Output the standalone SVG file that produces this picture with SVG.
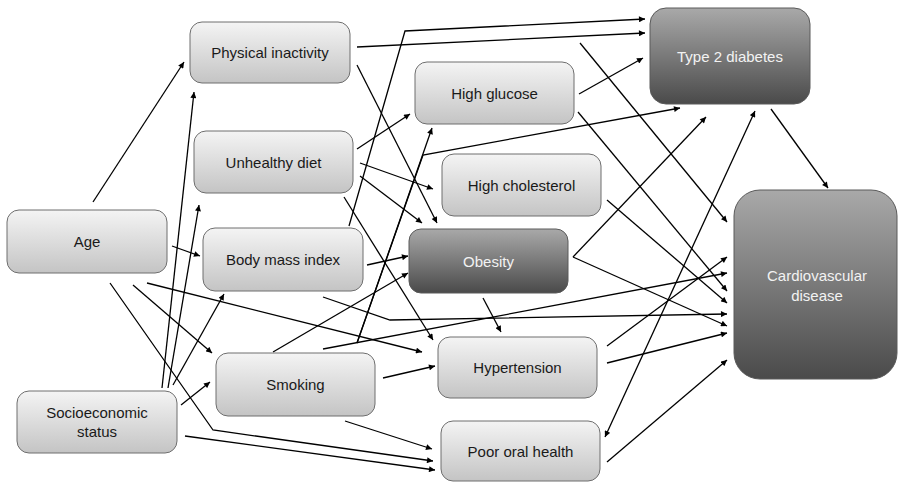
<svg xmlns="http://www.w3.org/2000/svg" width="899" height="482" viewBox="0 0 899 482">
<defs>
<linearGradient id="gl" x1="0" y1="0" x2="0" y2="1"><stop offset="0" stop-color="#f4f4f4"/><stop offset="1" stop-color="#c4c4c4"/></linearGradient>
<linearGradient id="gd" x1="0" y1="0" x2="0" y2="1"><stop offset="0" stop-color="#a9a9a9"/><stop offset="1" stop-color="#4a4a4a"/></linearGradient>
<marker id="ah" viewBox="0 0 10 10" refX="10" refY="5" markerWidth="7" markerHeight="6" markerUnits="userSpaceOnUse" orient="auto-start-reverse"><path d="M0,0 L10,5 L0,10 z" fill="#000"/></marker>
</defs>
<style>
.l{fill:url(#gl);stroke:#6e6e6e;stroke-width:1}
.d{fill:url(#gd);stroke:#5a5a5a;stroke-width:1}
text{font-family:"Liberation Sans",Arial,sans-serif;font-size:15px;text-anchor:middle}
.tl{fill:#1a1a1a}
.td{fill:#f2f2f2}
#edges line,#edges polyline{stroke:#000;stroke-width:1.3;fill:none;marker-end:url(#ah)}
</style>
<rect width="899" height="482" fill="#fff"/>
<g id="edges">
<line x1="93" y1="202" x2="184" y2="62"/>
<line x1="172" y1="246" x2="200" y2="256"/>
<line x1="133" y1="285" x2="212" y2="353"/>
<line x1="147" y1="283" x2="422" y2="352"/>
<polyline points="110,283 213,430 433,461"/>
<line x1="162" y1="388" x2="194" y2="92"/>
<line x1="168" y1="388" x2="199" y2="205"/>
<line x1="173" y1="385" x2="224" y2="294"/>
<line x1="181" y1="405" x2="210" y2="382"/>
<line x1="185" y1="436" x2="435" y2="470"/>
<line x1="273" y1="352" x2="408" y2="273"/>
<line x1="323" y1="349" x2="727" y2="273"/>
<line x1="383" y1="378" x2="435" y2="366"/>
<line x1="345" y1="421" x2="432" y2="449"/>
<line x1="357" y1="343" x2="432" y2="128"/>
<polyline points="357,343 423,155 680,108"/>
<line x1="367" y1="265" x2="408" y2="256"/>
<polyline points="349,226 405,31 645,19"/>
<polyline points="323,297 390,320 727,314"/>
<line x1="357" y1="47" x2="645" y2="33"/>
<line x1="357" y1="65" x2="437" y2="223"/>
<line x1="580" y1="43" x2="727" y2="222"/>
<line x1="357" y1="149" x2="410" y2="114"/>
<line x1="360" y1="163" x2="433" y2="189"/>
<line x1="360" y1="176" x2="422" y2="223"/>
<line x1="344" y1="197" x2="433" y2="340"/>
<line x1="579" y1="94" x2="643" y2="58"/>
<line x1="578" y1="112" x2="727" y2="291"/>
<line x1="607" y1="200" x2="727" y2="303"/>
<line x1="573" y1="257" x2="706" y2="117"/>
<line x1="573" y1="257" x2="727" y2="326"/>
<line x1="483" y1="298" x2="501" y2="332"/>
<line x1="607" y1="346" x2="727" y2="257"/>
<line x1="607" y1="363" x2="727" y2="333"/>
<line x1="607" y1="462" x2="727" y2="360"/>
<line x1="605" y1="437" x2="755" y2="111" style="marker-start:url(#ah)"/>
<line x1="771" y1="109" x2="828" y2="188"/>
</g>
<g id="physical-inactivity"><rect class="l" x="190" y="22" width="160" height="61" rx="12"/><text class="tl" x="270" y="58">Physical inactivity</text></g>
<g id="unhealthy-diet"><rect class="l" x="194" y="131" width="159" height="62" rx="12"/><text class="tl" x="273.5" y="167.5">Unhealthy diet</text></g>
<g id="age"><rect class="l" x="7" y="210" width="160" height="63" rx="12"/><text class="tl" x="87" y="247">Age</text></g>
<g id="body-mass-index"><rect class="l" x="203" y="228" width="160" height="63" rx="12"/><text class="tl" x="283" y="265">Body mass index</text></g>
<g id="smoking"><rect class="l" x="216" y="353" width="159" height="63" rx="12"/><text class="tl" x="295.5" y="390">Smoking</text></g>
<g id="socioeconomic-status"><rect class="l" x="17" y="391" width="160" height="62" rx="12"/><text class="tl" x="97" y="418">Socioeconomic</text><text class="tl" x="97" y="437">status</text></g>
<g id="high-glucose"><rect class="l" x="415" y="62" width="159" height="62" rx="12"/><text class="tl" x="494.5" y="98.5">High glucose</text></g>
<g id="high-cholesterol"><rect class="l" x="442" y="154" width="159" height="62" rx="12"/><text class="tl" x="521.5" y="190.5">High cholesterol</text></g>
<g id="obesity"><rect class="d" x="409" y="229" width="159" height="64" rx="12"/><text class="td" x="488.5" y="266.5">Obesity</text></g>
<g id="hypertension"><rect class="l" x="438" y="337" width="159" height="61" rx="12"/><text class="tl" x="517.5" y="373">Hypertension</text></g>
<g id="poor-oral-health"><rect class="l" x="441" y="421" width="159" height="60" rx="12"/><text class="tl" x="520.5" y="457">Poor oral health</text></g>
<g id="type-2-diabetes"><rect class="d" x="650" y="8" width="160" height="96" rx="16"/><text class="td" x="730" y="62">Type 2 diabetes</text></g>
<g id="cardiovascular-disease"><rect class="d" x="734" y="190" width="163" height="189" rx="26"/><text class="td" x="817" y="281">Cardiovascular</text><text class="td" x="817" y="301">disease</text></g>
</svg>
